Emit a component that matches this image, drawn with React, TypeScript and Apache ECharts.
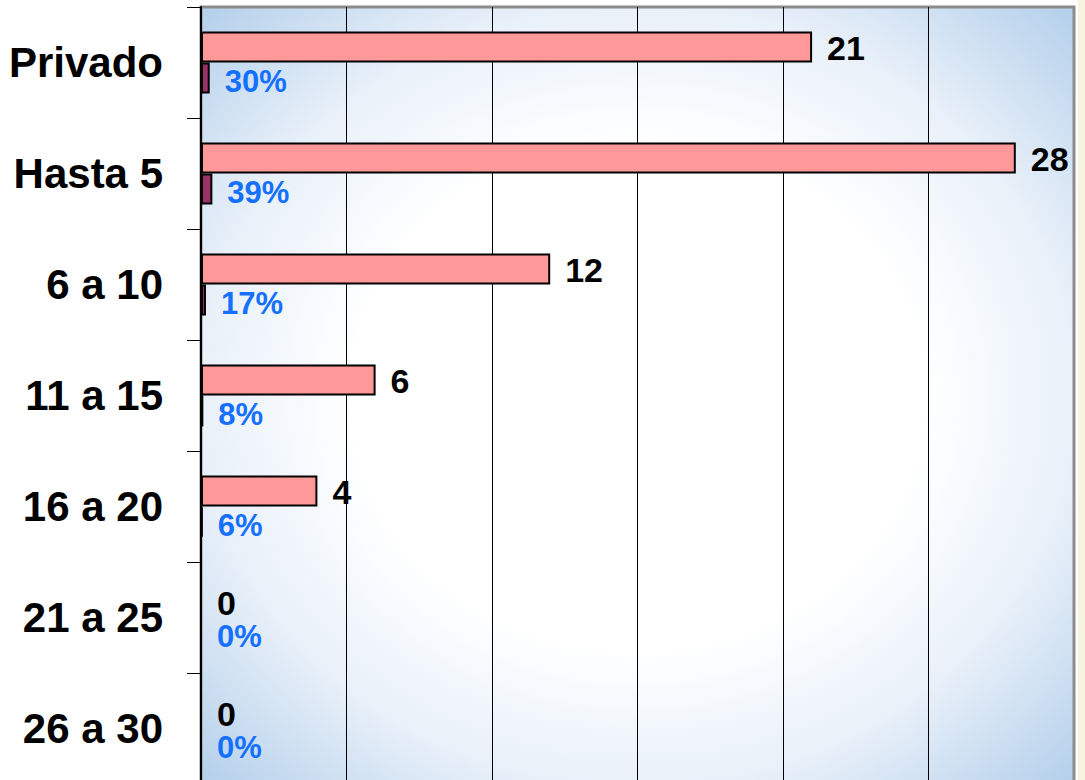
import React, { useEffect, useRef } from "react";
import * as echarts from "echarts";

const categories = ["Privado", "Hasta 5", "6 a 10", "11 a 15", "16 a 20", "21 a 25", "26 a 30"];
const counts = [21, 28, 12, 6, 4, 0, 0];
const shares = [0.3, 0.39, 0.17, 0.08, 0.06, 0, 0];

const FONT = "'Liberation Sans', Arial, Helvetica, sans-serif";

export default function App() {
  const ref = useRef<HTMLDivElement>(null);
  useEffect(() => {
    if (!ref.current) return;
    const chart = echarts.init(ref.current, undefined, { renderer: "svg" });
    chart.setOption({
      animation: false,
      backgroundColor: "#ffffff",
      textStyle: { fontFamily: FONT },
      grid: {
        left: 201,
        right: 11,
        top: 7,
        height: 777,
        containLabel: false,
        show: true,
        borderColor: "#8c8c8c",
        borderWidth: 3,
        backgroundColor: {
          type: "radial",
          x: 0.5,
          y: 0.5,
          r: 0.72,
          colorStops: [
            { offset: 0, color: "#ffffff" },
            { offset: 0.45, color: "#ffffff" },
            { offset: 0.7, color: "#e8f0f9" },
            { offset: 1, color: "#b0cdea" },
          ],
        },
      },
      graphic: [
        {
          type: "rect",
          shape: { x: 1078, y: 0, width: 7, height: 800 },
          style: { fill: "#f8f2e0" },
          silent: true,
        },
      ],
      xAxis: {
        type: "value",
        min: 0,
        max: 30,
        interval: 5,
        axisLabel: { show: false },
        axisLine: { show: false },
        axisTick: { show: false },
        splitLine: {
          show: true,
          lineStyle: {
            color: ["#000", "#000", "#000", "#000", "#000", "#000", "#8c8c8c"],
            width: 1,
          },
        },
      },
      yAxis: {
        type: "category",
        inverse: true,
        data: categories,
        axisLine: { show: true, lineStyle: { color: "#000", width: 2 } },
        axisTick: { show: true, length: 14, lineStyle: { color: "#000", width: 1 } },
        axisLabel: {
          color: "#000",
          fontSize: 42,
          fontWeight: "bold",
          fontFamily: FONT,
          margin: 38,
        },
      },
      series: [
        {
          type: "bar",
          data: counts,
          barWidth: 31,
          barGap: "0%",
          itemStyle: { color: "#ff9999", borderColor: "#000", borderWidth: 2 },
          label: {
            show: true,
            position: "right",
            distance: 15,
            offset: [0, 1],
            color: "#000",
            fontSize: 34,
            fontWeight: "bold",
            fontFamily: FONT,
          },
        },
        {
          type: "bar",
          data: shares,
          barWidth: 31,
          barGap: "0%",
          itemStyle: { color: "#993366", borderColor: "#000", borderWidth: 2 },
          label: {
            show: true,
            position: "right",
            distance: 15,
            offset: [0, 3],
            color: "#1570ff",
            fontSize: 31,
            fontWeight: "bold",
            fontFamily: FONT,
            formatter: (p: any) => Math.round(p.value * 100) + "%",
          },
        },
      ],
    });
    return () => chart.dispose();
  }, []);
  return (
    <div
      ref={ref}
      style={{ position: "absolute", left: 0, top: 0, width: 1085, height: 800 }}
    />
  );
}
